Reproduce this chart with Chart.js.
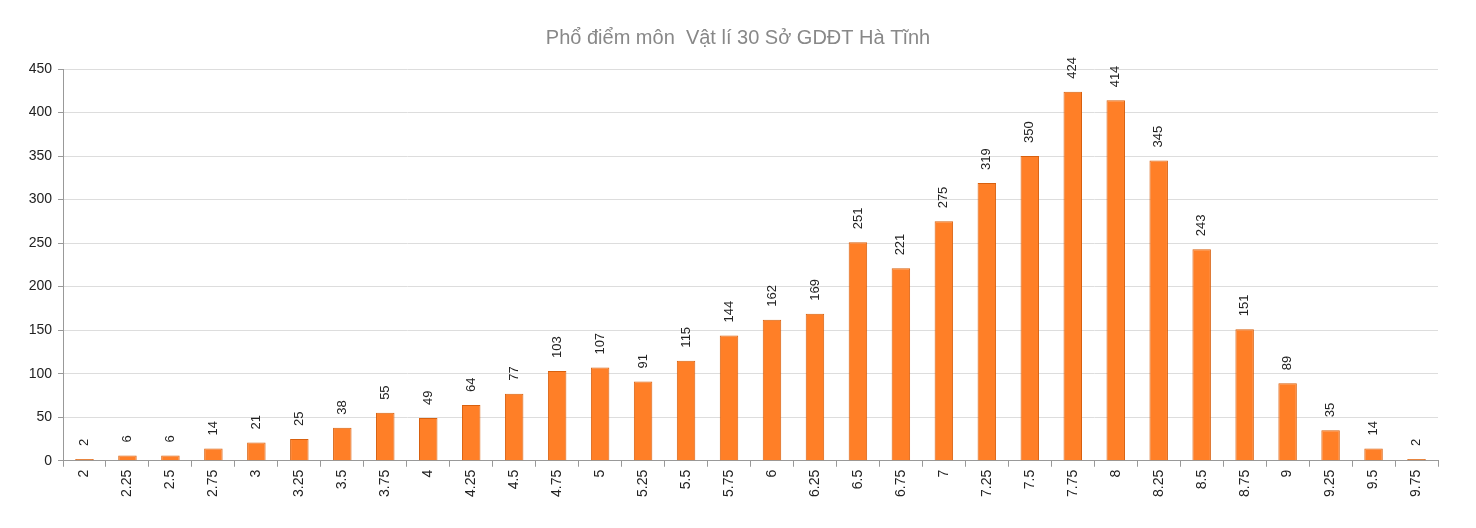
<!DOCTYPE html>
<html>
<head>
<meta charset="utf-8">
<script src="https://cdn.jsdelivr.net/npm/chart.js@4"></script>
<style>
  html, body { margin: 0; padding: 0; background: #fff; }
  #wrap { width: 1476px; height: 528px; }
</style>
</head>
<body>
<div id="wrap"><canvas id="scoreChart"></canvas></div>
<script>
// Dữ liệu phổ điểm
const chartTitle = 'Phổ điểm môn  Vật lí 30 Sở GDĐT Hà Tĩnh';
const scoreLabels = ['2', '2.25', '2.5', '2.75', '3', '3.25', '3.5', '3.75', '4', '4.25', '4.5', '4.75',
    '5', '5.25', '5.5', '5.75', '6', '6.25', '6.5', '6.75', '7', '7.25', '7.5', '7.75',
    '8', '8.25', '8.5', '8.75', '9', '9.25', '9.5', '9.75'];
const studentCounts = [2, 6, 6, 14, 21, 25, 38, 55, 49, 64, 77, 103,
    107, 91, 115, 144, 162, 169, 251, 221, 275, 319, 350, 424,
    414, 345, 243, 151, 89, 35, 14, 2];
const yMin = 0;
const yMax = 450;
const yStep = 50;

const FONT = 'Liberation Sans, Arial, sans-serif';

// Nhãn giá trị xoay dọc phía trên cột
const valueLabels = {
    id: 'valueLabels',
    afterDatasetsDraw(chart) {
        const ctx = chart.ctx;
        const meta = chart.getDatasetMeta(0);
        ctx.save();
        ctx.font = '13px ' + FONT;
        ctx.fillStyle = '#222';
        ctx.textBaseline = 'middle';
        ctx.textAlign = 'left';
        meta.data.forEach(function(bar, i) {
            ctx.save();
            ctx.translate(bar.x, bar.y - 13);
            ctx.rotate(-Math.PI / 2);
            ctx.fillText(String(studentCounts[i]), 0, 0);
            ctx.restore();
        });
        ctx.restore();
    }
};

function barGradient(context) {
    const chart = context.chart;
    const el = context.element;
    if (!chart.chartArea || !el || el.x === undefined) return '#ff7f27';
    const w = el.width || 18;
    const g = chart.ctx.createLinearGradient(el.x - w / 2, 0, el.x + w / 2, 0);
    g.addColorStop(0, '#ff9a4c');
    g.addColorStop(0.45, '#ff8b38');
    g.addColorStop(1, '#f06e14');
    return g;
}

const ctx = document.getElementById('scoreChart');
new Chart(ctx, {
    type: 'bar',
    data: {
        labels: scoreLabels,
        datasets: [{
            data: studentCounts,
            backgroundColor: barGradient,
            borderColor: '#d8600e',
            borderWidth: 1,
            barPercentage: 0.43,
            categoryPercentage: 1
        }]
    },
    options: {
        responsive: true,
        maintainAspectRatio: false,
        animation: false,
        layout: { padding: { left: 0, right: 0, top: 0, bottom: 28 } },
        plugins: {
            legend: { display: false },
            tooltip: { enabled: false },
            title: {
                display: true,
                text: chartTitle,
                color: '#888',
                font: { family: FONT, size: 20, weight: 'normal' },
                padding: { top: 26, bottom: 19 }
            }
        },
        scales: {
            x: {
                grid: {
                    display: true,
                    drawOnChartArea: false,
                    drawTicks: true,
                    tickLength: 6,
                    color: '#999'
                },
                border: { color: '#999', width: 1 },
                ticks: {
                    color: '#222',
                    font: { family: FONT, size: 14 },
                    maxRotation: 90,
                    minRotation: 90,
                    autoSkip: false,
                    padding: 3
                }
            },
            y: {
                min: yMin,
                max: yMax,
                afterFit(scale) { scale.width = 63; },
                grid: {
                    color: '#ddd',
                    tickColor: '#999',
                    tickLength: 5
                },
                border: { color: '#999', width: 1 },
                ticks: {
                    stepSize: yStep,
                    color: '#222',
                    font: { family: FONT, size: 14 },
                    padding: 6
                }
            },
            // trục phụ trống bên phải để giữ lề
            yRight: {
                position: 'right',
                min: yMin,
                max: yMax,
                afterFit(scale) { scale.width = 38; },
                grid: { display: false },
                border: { display: false },
                ticks: { display: false }
            }
        }
    },
    plugins: [valueLabels]
});
</script>
</body>
</html>
